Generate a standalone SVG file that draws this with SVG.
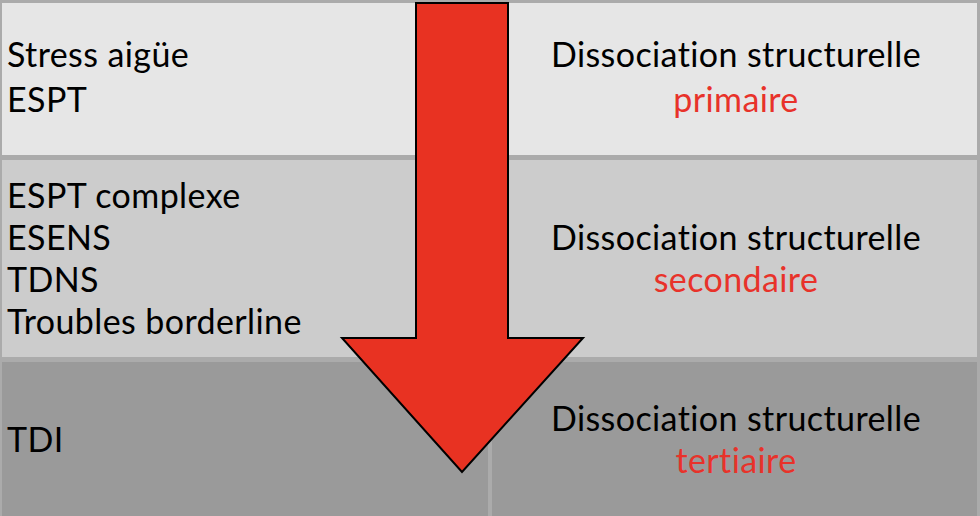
<svg xmlns="http://www.w3.org/2000/svg" width="980" height="516" viewBox="0 0 980 516">
<style>
.t{font-family:Lato,"Open Sans","Liberation Sans",sans-serif;font-size:34px;letter-spacing:0.4px;fill:#000}
.r{fill:#e8322a}
.c{text-anchor:middle}
.row1{fill:#e6e6e6}
.row2{fill:#cccccc}
.row3{fill:#9a9a9a}
</style>
<rect x="0" y="0" width="980" height="516" fill="#ababab"/>
<g id="cell-r1-left">
<rect class="row1" x="2" y="3" width="486" height="152"/>
<text class="t" x="7" y="67">Stress aigüe</text>
<text class="t" x="7" y="112">ESPT</text>
</g>
<g id="cell-r1-right">
<rect class="row1" x="492" y="3" width="485" height="152"/>
<text class="t c" x="736" y="67">Dissociation structurelle</text>
<text class="t c r" x="736" y="112">primaire</text>
</g>
<g id="cell-r2-left">
<rect class="row2" x="2" y="160" width="486" height="197"/>
<text class="t" x="7" y="208">ESPT complexe</text>
<text class="t" x="7" y="250">ESENS</text>
<text class="t" x="7" y="292">TDNS</text>
<text class="t" x="7" y="334">Troubles borderline</text>
</g>
<g id="cell-r2-right">
<rect class="row2" x="492" y="160" width="485" height="197"/>
<text class="t c" x="736" y="250">Dissociation structurelle</text>
<text class="t c r" x="736" y="292">secondaire</text>
</g>
<g id="cell-r3-left">
<rect class="row3" x="2" y="362" width="486" height="154"/>
<text class="t" x="7" y="452">TDI</text>
</g>
<g id="cell-r3-right">
<rect class="row3" x="492" y="362" width="485" height="154"/>
<text class="t c" x="736" y="431">Dissociation structurelle</text>
<text class="t c r" x="736" y="473">tertiaire</text>
</g>
<g id="connectors">
<polygon points="416,3 508,3 508,338 583,338 462,472 342,338 416,338" fill="#e83222" stroke="#000" stroke-width="2" stroke-linejoin="miter"/>
</g>
</svg>
